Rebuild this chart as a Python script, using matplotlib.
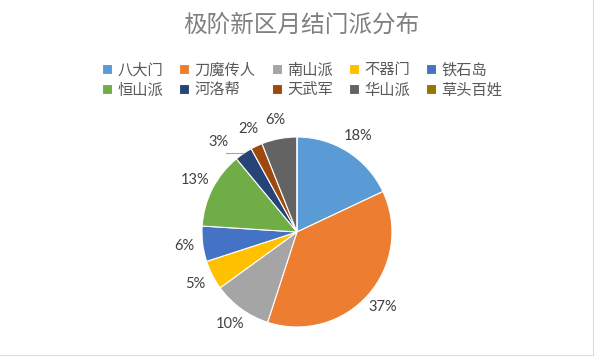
import numpy as np
import matplotlib
matplotlib.use("Agg")
import matplotlib.pyplot as plt
from matplotlib.patches import Rectangle

plt.rcParams['font.family'] = ['Noto Sans CJK SC', 'DejaVu Sans']

# data (percent of members per sect)
sects = ["八大门", "刀魔传人", "南山派", "不器门", "铁石岛",
         "恒山派", "河洛帮", "天武军", "华山派", "草头百姓"]
shares = [18, 37, 10, 5, 6, 13, 3, 2, 6, 0]
colors = ["#5B9BD5", "#ED7D31", "#A5A5A5", "#FFC000", "#4472C4",
          "#70AD47", "#264478", "#9E480E", "#636363", "#997300"]
title = "极阶新区月结门派分布"

fig = plt.figure(figsize=(6.02, 3.6), dpi=100)
fig.patch.set_facecolor("white")

# faint spreadsheet borders
fig.add_artist(Rectangle((-0.01, 0.015), 0.995, 0.99, transform=fig.transFigure,
                         fill=False, edgecolor="#dcdcdc", linewidth=0.8))

ax = fig.add_axes([0.3355, 0.0917, 0.3156, 0.5278])


def pct_label(p):
    return "" if p < 0.5 else f"{p:.0f}%"


wedges, texts, autotexts = ax.pie(
    shares, colors=colors, startangle=90, counterclock=False,
    autopct=pct_label, pctdistance=1.2,
    wedgeprops=dict(edgecolor="white", linewidth=0.8),
    textprops=dict(color="#404040", fontsize=10.5, family=["Lato", "DejaVu Sans"]))
ax.set_xlim(-1, 1)
ax.set_ylim(-1, 1)
ax.set_aspect("equal")

# small slice "河洛帮": label pulled out with a leader line like Excel does
idx = sects.index("河洛帮")
w = wedges[idx]
mid = np.deg2rad((w.theta1 + w.theta2) / 2)
ex, ey = np.cos(mid), np.sin(mid)
autotexts[idx].set_position((ex - 0.26, ey + 0.12))
ax.plot([ex, ex - 0.19], [ey, ey], color="#a6a6a6", linewidth=0.8, clip_on=False)

# legend, Excel order row by row (matplotlib fills columns first)
order = [0, 5, 1, 6, 2, 7, 3, 8, 4, 9]
fig.legend([wedges[i] for i in order], [sects[i] for i in order],
           ncol=5, loc="upper center", bbox_to_anchor=(0.502, 0.868),
           frameon=False, fontsize=11, handlelength=0.65, handleheight=0.65,
           handletextpad=0.35, columnspacing=1.05, labelspacing=0.2,
           labelcolor="#595959")

fig.text(0.5, 0.93, title, ha="center", va="center", fontsize=17,
         color="#808080")

fig.savefig("out.png", dpi=100)
